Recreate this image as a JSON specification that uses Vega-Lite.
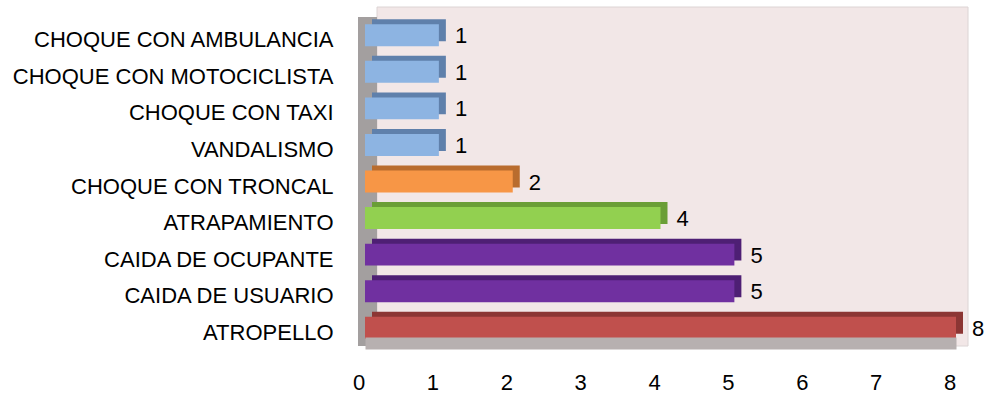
{
  "$schema": "https://vega.github.io/schema/vega-lite/v6.json",
  "width": 591,
  "height": 329,
  "autosize": "none",
  "padding": {"left": 365, "top": 17, "right": 34, "bottom": 49},
  "background": "white",
  "config": {"view": {"stroke": null}, "font": "Liberation Sans"},
  "data": {
    "values": [
      {"categoria": "CHOQUE CON AMBULANCIA", "valor": 1},
      {"categoria": "CHOQUE CON MOTOCICLISTA", "valor": 1},
      {"categoria": "CHOQUE CON TAXI", "valor": 1},
      {"categoria": "VANDALISMO", "valor": 1},
      {"categoria": "CHOQUE CON TRONCAL", "valor": 2},
      {"categoria": "ATRAPAMIENTO", "valor": 4},
      {"categoria": "CAIDA DE OCUPANTE", "valor": 5},
      {"categoria": "CAIDA DE USUARIO", "valor": 5},
      {"categoria": "ATROPELLO", "valor": 8}
    ]
  },
  "layer": [
    {
      "data": {"values": [{}]},
      "mark": {"type": "rect", "fill": "#F2E7E7", "stroke": "#DCD4D4", "strokeWidth": 1, "xOffset": 12, "x2Offset": 12, "yOffset": -10, "y2Offset": -10},
      "encoding": {
        "x": {
          "datum": 0, "type": "quantitative",
          "scale": {"domain": [0, 8], "nice": false, "zero": true},
          "axis": {"title": null, "ticks": false, "grid": false, "format": "d", "values": [0, 1, 2, 3, 4, 5, 6, 7, 8], "labelFlush": false, "domainColor": "#B7B0B0", "domainWidth": 12, "offset": -3, "zindex": 1, "labelOffset": -6.5, "labelPadding": 29, "labelFontSize": 22, "labelColor": "black", "labelFont": "Liberation Sans"}
        },
        "x2": {"datum": 8}
      }
    },
    {
      "data": {"values": [{}]},
      "mark": {"type": "rule", "color": "#A39F9F", "strokeWidth": 19, "xOffset": 2.5},
      "encoding": {"x": {"datum": 0, "type": "quantitative"}}
    },
    {
      "mark": {"type": "bar", "xOffset": 7, "x2Offset": 7, "yOffset": -5, "y2Offset": -5},
      "encoding": {
        "y": {
          "field": "categoria", "type": "nominal", "sort": null,
          "scale": {"paddingInner": 0.4, "paddingOuter": 0.2},
          "axis": {"title": null, "ticks": false, "domain": false, "labelPadding": 32, "labelFontSize": 22, "labelColor": "black", "labelOffset": 5, "labelLimit": 400, "labelFont": "Liberation Sans"}
        },
        "x": {"field": "valor", "type": "quantitative"},
        "color": {
          "field": "categoria", "type": "nominal", "legend": null,
          "scale": {
            "domain": ["CHOQUE CON AMBULANCIA", "CHOQUE CON MOTOCICLISTA", "CHOQUE CON TAXI", "VANDALISMO", "CHOQUE CON TRONCAL", "ATRAPAMIENTO", "CAIDA DE OCUPANTE", "CAIDA DE USUARIO", "ATROPELLO"],
            "range": ["#5F80AB", "#5F80AB", "#5F80AB", "#5F80AB", "#B96C2E", "#6A9E36", "#4E1F74", "#4E1F74", "#8C3634"]
          }
        }
      }
    },
    {
      "mark": {"type": "bar"},
      "encoding": {
        "y": {"field": "categoria", "type": "nominal", "sort": null},
        "x": {"field": "valor", "type": "quantitative"},
        "color": {
          "field": "categoria", "type": "nominal", "legend": null,
          "scale": {
            "domain": ["CHOQUE CON AMBULANCIA", "CHOQUE CON MOTOCICLISTA", "CHOQUE CON TAXI", "VANDALISMO", "CHOQUE CON TRONCAL", "ATRAPAMIENTO", "CAIDA DE OCUPANTE", "CAIDA DE USUARIO", "ATROPELLO"],
            "range": ["#8DB4E2", "#8DB4E2", "#8DB4E2", "#8DB4E2", "#F79646", "#92D050", "#7030A0", "#7030A0", "#C0504D"]
          }
        }
      }
    },
    {
      "mark": {"type": "text", "align": "left", "baseline": "middle", "dx": 16, "dy": 1, "fontSize": 22, "font": "Liberation Sans", "color": "black"},
      "encoding": {
        "y": {"field": "categoria", "type": "nominal", "sort": null},
        "x": {"field": "valor", "type": "quantitative"},
        "text": {"field": "valor", "type": "quantitative"}
      }
    }
  ],
  "resolve": {"scale": {"color": "independent"}}
}
